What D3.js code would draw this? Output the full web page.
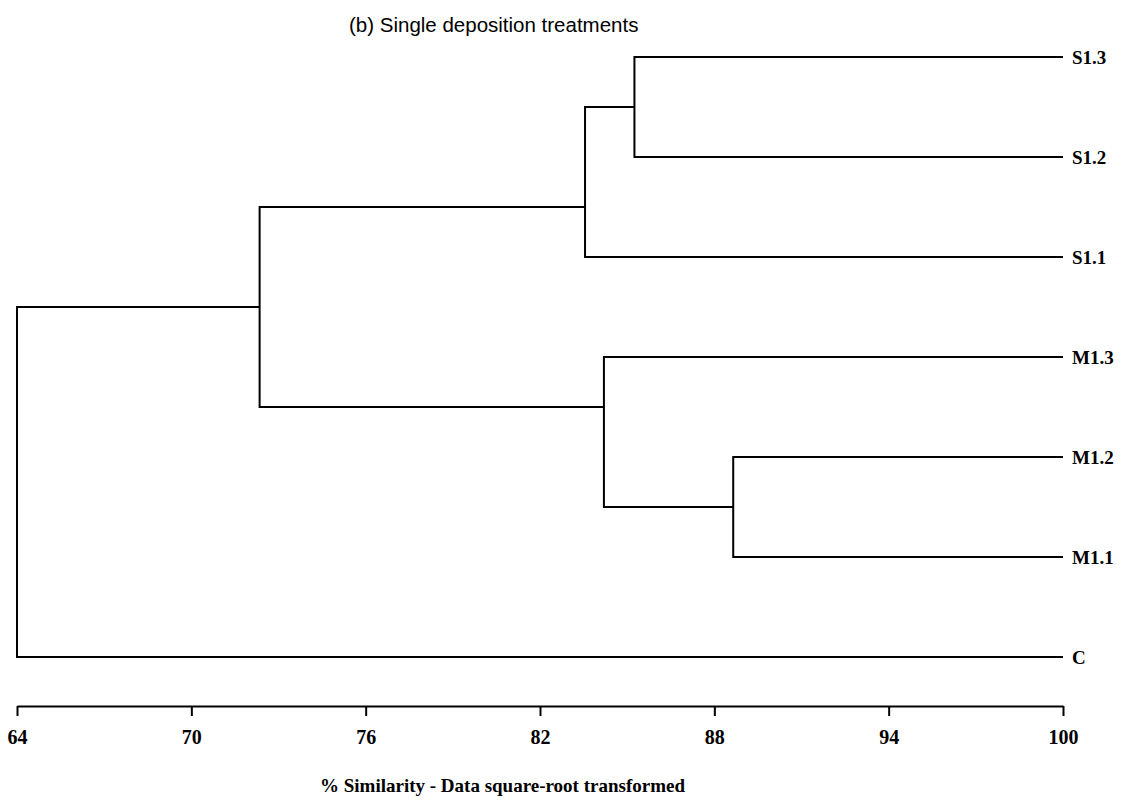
<!DOCTYPE html>
<html lang="en">
<head>
  <meta charset="UTF-8">
  <title>Single deposition treatments - dendrogram</title>
  <script src="https://d3js.org/d3.v7.min.js"></script>
  <style>
    body { margin: 0; background: #fff; }
  </style>
</head>
<body>
<script>
  // leaf order top to bottom
  const leaves = ["S1.3", "S1.2", "S1.1", "M1.3", "M1.2", "M1.1", "C"];
  // clusters: two children each, % similarity at which they join
  const merges = [
    { id: "n1", children: ["S1.3", "S1.2"], sim: 85.25 },
    { id: "n2", children: ["n1", "S1.1"], sim: 83.55 },
    { id: "n3", children: ["M1.2", "M1.1"], sim: 88.65 },
    { id: "n4", children: ["M1.3", "n3"], sim: 84.2 },
    { id: "n5", children: ["n2", "n4"], sim: 72.35 },
    { id: "n6", children: ["n5", "C"], sim: 64 }
  ];
  const tickValues = [64, 70, 76, 82, 88, 94, 100];

  const width = 1135, height = 803;

  const svg = d3.select("body").append("svg")
    .attr("width", width)
    .attr("height", height);

  const x = d3.scaleLinear().domain([64, 100]).range([17, 1063]);
  const y = d3.scalePoint().domain(leaves).range([57, 657]);

  const byId = {};
  merges.forEach(m => byId[m.id] = m);

  function leafList(id) {
    if (!byId[id]) return [id];
    return byId[id].children.flatMap(leafList);
  }
  function simOf(id) {
    return byId[id] ? byId[id].sim : 100;
  }
  // join point sits between the two leaves either side of the split
  function yOf(id) {
    if (!byId[id]) return y(id);
    const a = leafList(byId[id].children[0]);
    const b = leafList(byId[id].children[1]);
    return (y(a[a.length - 1]) + y(b[0])) / 2;
  }

  const g = svg.append("g")
    .attr("fill", "none")
    .attr("stroke", "#000")
    .attr("stroke-width", 2);

  merges.forEach(m => {
    const xn = x(m.sim);
    const [c1, c2] = m.children;
    g.append("path")
      .attr("d", "M" + x(simOf(c1)) + "," + yOf(c1) +
        "H" + xn + "V" + yOf(c2) + "H" + x(simOf(c2)));
  });

  svg.append("g")
    .attr("font-family", "'Liberation Serif', 'Times New Roman', serif")
    .attr("font-size", 19)
    .attr("font-weight", "bold")
    .selectAll("text")
    .data(leaves)
    .enter().append("text")
    .attr("x", x(100) + 9)
    .attr("y", d => y(d))
    .attr("dy", "0.35em")
    .text(d => d);

  const axis = svg.append("g")
    .attr("transform", "translate(0,706)")
    .call(d3.axisBottom(x).tickValues(tickValues).tickSize(10).tickSizeOuter(0).tickPadding(14));
  axis.select(".domain").attr("stroke-width", 2);
  axis.selectAll(".tick line").attr("stroke-width", 2);
  axis.selectAll(".tick text")
    .attr("font-family", "'Liberation Serif', 'Times New Roman', serif")
    .attr("font-size", 20)
    .attr("font-weight", "bold")
    .attr("fill", "#000");

  svg.append("text")
    .attr("x", 320)
    .attr("y", 792)
    .attr("font-family", "'Liberation Serif', 'Times New Roman', serif")
    .attr("font-size", 19)
    .attr("font-weight", "bold")
    .text("% Similarity - Data square-root transformed");

  svg.append("text")
    .attr("x", 349)
    .attr("y", 32)
    .attr("font-family", "'Liberation Sans', Arial, sans-serif")
    .attr("font-size", 20.5)
    .text("(b) Single deposition treatments");
</script>
</body>
</html>
